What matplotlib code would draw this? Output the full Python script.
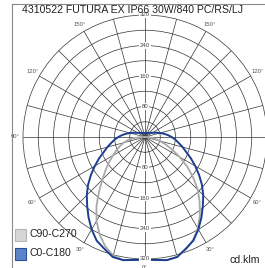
import numpy as np
import matplotlib
matplotlib.use("Agg")
import matplotlib.pyplot as plt
from matplotlib.lines import Line2D
from matplotlib.patches import Rectangle

plt.rcParams["font.family"] = ["Liberation Sans", "DejaVu Sans"]

# ── data (cd/klm, angle measured from nadir) ──
angles = [0, 10, 15, 20, 25, 30, 35, 40, 45, 50, 55, 60, 65, 70, 75, 80, 85,
          90, 95, 100, 105, 110, 120, 135, 150, 165, 180]
c0_c180 = [322, 328, 326, 312, 300, 280, 258, 236, 216, 195, 173, 152, 133, 115,
           102, 90, 80, 70, 60, 50, 41, 33, 22, 15, 12, 10.5, 10]
c90_side = [322, 328, 325, 314, 298, 277, 251, 223, 196, 165, 135, 105, 80, 58,
            40, 26, 14, 5, 0, 0, 0, 0, 0, 0, 0, 0, 0]
c270_side = [322, 328, 322, 305, 282, 254, 222, 188, 158, 135, 115, 97, 83, 70,
             58, 45, 28, 8, 0, 0, 0, 0, 0, 0, 0, 0, 0]

ring_values = [40, 80, 120, 160, 200, 240, 280]
ring_labels = [80, 160, 240, 320]
angle_labels = [0, 30, 60, 90, 120, 150]

title = "4310522 FUTURA EX IP66 30W/840 PC/RS/LJ"
legend_names = ["C90-C270", "C0-C180"]

GRID = "#333333"
BLUE = "#1d3d8f"
GRAY = "#a9a9a9"

fig = plt.figure(figsize=(2.65, 2.68), dpi=100, facecolor="white")

# frame lines (left + top)
fig.add_artist(Line2D([12 / 265, 12 / 265], [0, 1 - 4 / 268], color="#8a8a8a",
                      lw=0.8, transform=fig.transFigure))
fig.add_artist(Line2D([12 / 265, 1], [1 - 4 / 268, 1 - 4 / 268], color="#8a8a8a",
                      lw=0.8, transform=fig.transFigure))

ax = fig.add_axes([23 / 265, 9 / 268, 244 / 265, 244 / 268], projection="polar")
ax.set_theta_zero_location("S")
ax.set_ylim(0, 320)
ax.set_thetagrids(np.arange(0, 360, 15), labels=[])
ax.set_rgrids(ring_values, labels=[])
ax.grid(True, color=GRID, lw=0.5)
ax.spines["polar"].set_color(GRID)
ax.spines["polar"].set_linewidth(0.5)
ax.set_facecolor("none")

a = np.radians(angles)
th_full = np.concatenate([-a[::-1], a[1:]])
gray_r = np.concatenate([c270_side[::-1], c90_side[1:]])
blue_r = np.concatenate([c0_c180[::-1], c0_c180[1:]])
ax.plot(th_full, gray_r, color=GRAY, lw=1.3, zorder=3, clip_on=False)
ax.plot(th_full, blue_r, color=BLUE, lw=1.4, zorder=4, clip_on=False)

# angle labels (right 90° falls outside the picture)
for ang in angle_labels:
    sides = [-ang] if ang in (0, 90) else [ang, -ang]
    for s in sides:
        ax.text(np.radians(s), 341, f"{ang}°", fontsize=4.2, color="#555555",
                ha="center", va="center", clip_on=False)

# radial labels up and down the vertical axis
for rv in ring_labels:
    for th in (0, np.pi):
        ax.text(th, rv, str(rv), fontsize=4.3, color="#444444", ha="center",
                va="center", zorder=5,
                bbox=dict(boxstyle="square,pad=0.15", fc="white", ec="none"))

fig.text(22 / 265, 1 - 10 / 268, title, fontsize=7.6, color="#222222",
         ha="left", va="center")

# legend
fig.add_artist(Rectangle((15 / 265, 1 - 241 / 268), 11 / 265, 12 / 268,
                         transform=fig.transFigure, fc="#d6d6d6", ec="#b5b5b5",
                         lw=0.8))
fig.add_artist(Rectangle((15 / 265, 1 - 260 / 268), 11 / 265, 12 / 268,
                         transform=fig.transFigure, fc="#5a85c6", ec="#2b4f9c",
                         lw=0.8))
fig.text(29 / 265, 1 - 234 / 268, legend_names[0], fontsize=7.6, color="#222222",
         ha="left", va="center")
fig.text(29 / 265, 1 - 253 / 268, legend_names[1], fontsize=7.6, color="#222222",
         ha="left", va="center")

fig.text(229 / 265, 1 - 260 / 268, "cd.klm", fontsize=7.6, color="#222222",
         ha="left", va="center")

fig.savefig("out.png", dpi=100, facecolor="white")
